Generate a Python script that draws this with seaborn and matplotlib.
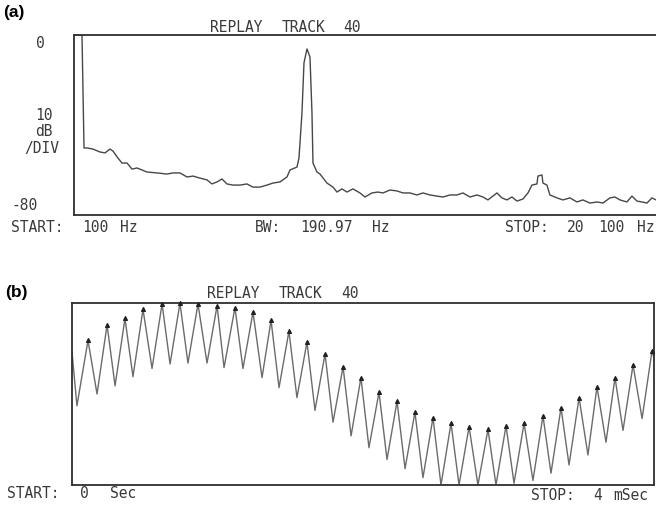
import matplotlib
matplotlib.use("Agg")
import matplotlib.pyplot as plt
import numpy as np
import pandas as pd
import seaborn as sns

# ---- (a) spectrum of replayed track 40, 10 dB/div, 100 Hz .. 20.1 kHz ----
freq_hz = [100, 375, 444, 547, 753, 993, 1165, 1337, 1440, 1612, 1749, 1921,
           2093, 2265, 2608, 2952, 3295, 3502, 3742, 3983, 4189, 4429, 4670,
           4842, 5013, 5185, 5357, 5563, 5804, 6044, 6250, 6491, 6731, 6938,
           7178, 7419, 7522, 7762, 7831, 7934, 8003, 8106, 8209, 8278, 8312,
           8449, 8553, 8793, 8999, 9137, 9308, 9480, 9686, 9927, 10099, 10339,
           10545, 10717, 10958, 11198, 11404, 11645, 11885, 12092, 12332,
           12573, 12779, 13019, 13260, 13466, 13707, 13947, 14153, 14325,
           14634, 14806, 14978, 15150, 15322, 15528, 15700, 15837, 16009,
           16043, 16181, 16215, 16352, 16455, 16696, 16902, 17143, 17383,
           17589, 17830, 18070, 18276, 18517, 18689, 18860, 19101, 19273,
           19445, 19616, 19788, 19960, 20100]
level_db = [0.0, 0.0, -50.2, -50.2, -50.7, -52.0, -52.4, -50.7, -51.6, -54.7,
            -56.9, -56.9, -59.6, -59.1, -60.9, -61.3, -61.8, -61.3, -61.3,
            -63.1, -62.7, -63.6, -64.4, -66.2, -65.3, -64.0, -66.2, -66.7,
            -66.7, -66.2, -67.6, -67.6, -66.7, -65.8, -65.3, -63.1, -60.0,
            -58.7, -54.7, -34.7, -12.4, -6.2, -9.8, -34.7, -56.9, -60.9,
            -61.8, -65.8, -67.6, -69.8, -68.4, -69.8, -68.4, -70.2, -72.0,
            -70.2, -69.8, -70.2, -68.9, -69.3, -70.2, -70.2, -71.1, -70.2,
            -71.1, -71.6, -72.0, -71.1, -71.1, -70.2, -72.0, -71.1, -72.0,
            -73.3, -70.2, -72.4, -73.3, -72.0, -73.8, -72.9, -70.2, -66.7,
            -66.2, -62.7, -62.2, -65.8, -66.7, -71.1, -72.4, -73.3, -72.4,
            -74.2, -73.3, -74.7, -74.2, -74.7, -72.4, -72.0, -73.3, -74.2,
            -71.6, -73.8, -74.2, -74.7, -72.4, -73.3]

# ---- (b) replayed waveform over 4 ms: successive troughs and peaks ----
trough_ms = [0.034, 0.172, 0.296, 0.419, 0.550, 0.674, 0.797, 0.928, 1.045,
             1.175, 1.306, 1.423, 1.546, 1.670, 1.794, 1.918, 2.041, 2.165,
             2.289, 2.412, 2.536, 2.660, 2.790, 2.914, 3.038, 3.168, 3.292,
             3.416, 3.546, 3.670, 3.787, 3.918]
trough_amp = [-0.13, 0.00, 0.09, 0.19, 0.28, 0.33, 0.34, 0.34, 0.29, 0.28,
              0.18, 0.07, -0.04, -0.18, -0.31, -0.46, -0.59, -0.72, -0.82,
              -0.92, -1.00, -1.00, -1.00, -1.00, -0.98, -0.95, -0.87, -0.78,
              -0.67, -0.53, -0.40, -0.27]
peak_ms = [0.110, 0.241, 0.364, 0.488, 0.619, 0.742, 0.866, 0.997, 1.120,
           1.244, 1.368, 1.491, 1.615, 1.739, 1.863, 1.986, 2.110, 2.234,
           2.357, 2.481, 2.605, 2.729, 2.859, 2.983, 3.107, 3.237, 3.361,
           3.485, 3.608, 3.732, 3.856, 3.986]
peak_amp = [0.59, 0.76, 0.83, 0.93, 0.99, 1.00, 0.99, 0.97, 0.95, 0.90, 0.81,
            0.69, 0.57, 0.44, 0.30, 0.18, 0.02, -0.08, -0.20, -0.26, -0.32,
            -0.36, -0.39, -0.35, -0.32, -0.24, -0.15, -0.04, 0.08, 0.18, 0.32,
            0.47]
edge_ms = [0.0, 4.0]
edge_amp = [0.46, 0.40]

spectrum = pd.DataFrame({"freq": freq_hz, "level": level_db})
wave = pd.DataFrame({
    "t": edge_ms + trough_ms + peak_ms,
    "amp": edge_amp + trough_amp + peak_amp,
}).sort_values("t")

sns.set_theme(style="white")
plt.rcParams["font.family"] = ["DejaVu Sans Mono", "DejaVu Sans"]

W, H = 656, 505
fig = plt.figure(figsize=(W / 100, H / 100), dpi=100)
fig.patch.set_facecolor("white")

frame_col = "#2e2e2e"
text_col = "#3a3a3a"


def box(left, top, right, bottom):
    return [left / W, 1 - bottom / H, (right - left) / W, (bottom - top) / H]


def put(x, y, s, size=10.5, **kw):
    kw.setdefault("color", text_col)
    fig.text(x / W, 1 - y / H, s, ha="left", va="center", fontsize=size, **kw)


# panel (a)
ax_a = fig.add_axes(box(74, 35, 656, 215))
sns.lineplot(data=spectrum, x="freq", y="level", ax=ax_a, color="#474747",
             linewidth=1.0, estimator=None, sort=False)
ax_a.set_xlim(100, 20100)
ax_a.set_ylim(-80, 0)

# panel (b)
ax_b = fig.add_axes(box(72, 303, 654, 485))
sns.lineplot(data=wave, x="t", y="amp", ax=ax_b, color="#6b6b6b",
             linewidth=1.0, estimator=None, sort=False)
ax_b.scatter(peak_ms, peak_amp, marker="^", s=7, color="#222222", zorder=3,
             clip_on=False)
ax_b.set_xlim(0, 4.0)
ax_b.set_ylim(-1.0, 1.0)

for ax in (ax_a, ax_b):
    ax.set_xticks([])
    ax.set_yticks([])
    ax.set_xlabel("")
    ax.set_ylabel("")
    ax.set_facecolor("white")
    for side in ("left", "top", "bottom", "right"):
        ax.spines[side].set_color(frame_col)
        ax.spines[side].set_linewidth(1.3)
ax_a.spines["right"].set_visible(False)

# panel letters
put(3, 13, "(a)", size=12.5, family="Liberation Sans", weight="bold",
    color="black")
put(5, 293, "(b)", size=12.5, family="Liberation Sans", weight="bold",
    color="black")

# (a) annotations
put(210, 27, "REPLAY")
put(282, 27, "TRACK")
put(343, 27, "40")
put(36, 44, "0")
put(35, 115, "10")
put(35, 132, "dB")
put(24, 149, "/DIV")
put(12, 206, "-80")
put(11, 227, "START:")
put(82, 227, "100")
put(120, 227, "Hz")
put(255, 228, "BW:")
put(300, 228, "190.97")
put(372, 228, "Hz")
put(505, 228, "STOP:")
put(567, 228, "20")
put(598, 228, "100")
put(637, 228, "Hz")

# (b) annotations
put(207, 294, "REPLAY")
put(279, 294, "TRACK")
put(341, 294, "40")
put(7, 493, "START:")
put(80, 493, "0")
put(110, 493, "Sec")
put(531, 495, "STOP:")
put(593, 495, "4")
put(613, 495, "mSec")

fig.savefig("out.png", dpi=100, facecolor="white")
